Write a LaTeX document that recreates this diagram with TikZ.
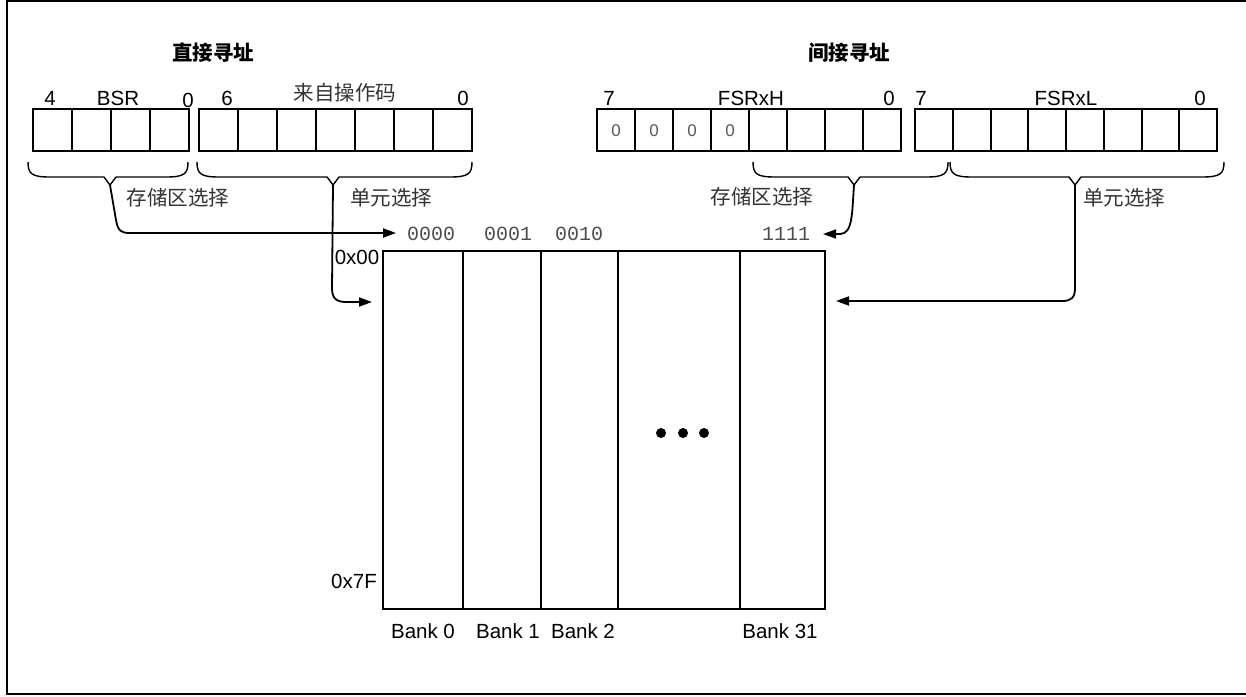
\documentclass[tikz,border=0pt]{standalone}
\usepackage{fontspec}
\setmainfont{Liberation Sans}
\newfontfamily\cjk{Noto Sans CJK SC}
\newfontfamily\monofam{Liberation Mono}
\usetikzlibrary{arrows.meta}
\newcommand\regbrace[4]{%
  \draw[brace] (#1,162) .. controls (#1,174) and (#1+4,177) .. (#1+22,177)
    -- (#3-6,177) -- (#3,185) -- (#3+6,177) -- (#2-22,177)
    .. controls (#2-4,177) and (#2,174) .. (#2,162);
  \coordinate (#4) at (#3,185);}
\begin{document}
\begin{tikzpicture}[x=1pt,y=-1pt,
  lbl/.style={font=\fontsize{20.5}{24}\selectfont, inner sep=0pt},
  cjklbl/.style={font=\cjk\fontsize{20.5}{24}\selectfont, text=black!80, inner sep=0pt},
  titlelbl/.style={font=\cjk\bfseries\fontsize{20.5}{24}\selectfont, inner sep=0pt},
  addr/.style={font=\monofam\fontsize{20}{24}\selectfont, text=black!70, inner sep=0pt},
  bitlbl/.style={font=\fontsize{17}{20}\selectfont, text=black!65, inner sep=0pt},
  reg/.style={draw, line width=2pt, inner sep=0pt},
  cell/.style={line width=2pt},
  brace/.style={line width=1.4pt},
  conn/.style={line width=1.8pt, -{Triangle[length=13pt,width=9pt]}},
  dot/.style={fill=black},
]
\useasboundingbox (0,0) rectangle (1246,696);
% frame
\draw[line width=2pt] (1246,1) -- (7,1) -- (7,694) -- (1246,694);

% titles
\node[titlelbl] (t1) at (213,53) {直接寻址};
\node[titlelbl] (t2) at (849,53) {间接寻址};

% register boxes
\node[reg, minimum width=156pt, minimum height=42pt] (bsr) at (111,130) {};
\foreach \x in {72,111,150} \draw[cell] (\x,109) -- (\x,151);
\node[reg, minimum width=273pt, minimum height=42pt] (opc) at (335.5,130) {};
\foreach \x in {238,277,316,355,394,433} \draw[cell] (\x,109) -- (\x,151);
\node[reg, minimum width=304pt, minimum height=42pt] (fsrh) at (749,130) {};
\foreach \x in {635,673,711,749,787,825,863} \draw[cell] (\x,109) -- (\x,151);
\node[reg, minimum width=302pt, minimum height=42pt] (fsrl) at (1066,130) {};
\foreach \i in {1,...,7} \draw[cell] (915+37.75*\i,109) -- (915+37.75*\i,151);
\foreach \x/\n in {616/b7,654/b6,692/b5,730/b4} \node[bitlbl] (\n) at (\x,131) {0};

% labels above registers
\node[lbl] (l4) at (50,98) {4};
\node[lbl] (lbsr) at (118,98) {BSR};
\node[lbl] (l0a) at (188,100) {0};
\node[lbl] (l6) at (227,98) {6};
\node[cjklbl] (lopc) at (345,93) {来自操作码};
\node[lbl] (l0b) at (463,98) {0};
\node[lbl] (l7a) at (609,98) {7};
\node[lbl] (lfh) at (751,98) {FSRxH};
\node[lbl] (l0c) at (889,98) {0};
\node[lbl] (l7b) at (921,98) {7};
\node[lbl] (lfl) at (1066,98) {FSRxL};
\node[lbl] (l0d) at (1200,98) {0};

% braces
\regbrace{28}{188}{110}{bsrtip}
\regbrace{197}{472}{333}{optip}
\regbrace{753}{948}{854}{hitip}
\regbrace{950}{1224}{1075}{lotip}

\node[cjklbl] (s1) at (178,198) {存储区选择};
\node[cjklbl] (u1) at (391,198) {单元选择};
\node[cjklbl] (s2) at (762,197) {存储区选择};
\node[cjklbl] (u2) at (1124,198) {单元选择};

% memory banks
\node[reg, minimum width=442pt, minimum height=358pt] (mem) at (604,430) {};
\foreach \x in {463,541,618,740} \draw[cell] (\x,251) -- (\x,609);
\fill[dot] (661,433) circle (5pt) (683,433) circle (5pt) (704,433) circle (5pt);

\node[addr] (a0) at (431,234) {0000};
\node[addr] (a1) at (508,234) {0001};
\node[addr] (a2) at (579,234) {0010};
\node[addr] (a31) at (786,234) {1111};
\node[lbl] (r0) at (357,257) {0x00};
\node[lbl] (r7f) at (354,581) {0x7F};
\node[lbl] (k0) at (423,631) {Bank 0};
\node[lbl] (k1) at (508,631) {Bank 1};
\node[lbl] (k2) at (583,631) {Bank 2};
\node[lbl] (k31) at (780,631) {Bank 31};

% connectors
\coordinate (bankL) at (396,233);
\coordinate (unitL) at (372,302);
\coordinate (bankR) at (823,234);
\coordinate (unitR) at (836,301);
\draw[conn] (bsrtip) -- (116,220) .. controls (118,231) and (121,233) .. (130,233) -- (bankL);
\draw[conn] (optip) -- (332,288) .. controls (332,298) and (336,302) .. (346,302) -- (unitL);
\draw[conn] (hitip) .. controls (852,212) and (853,234) .. (840,234) -- (bankR);
\draw[conn] (lotip) -- (1075,288) .. controls (1075,298) and (1071,301) .. (1062,301) -- (unitR);
\end{tikzpicture}
\end{document}
